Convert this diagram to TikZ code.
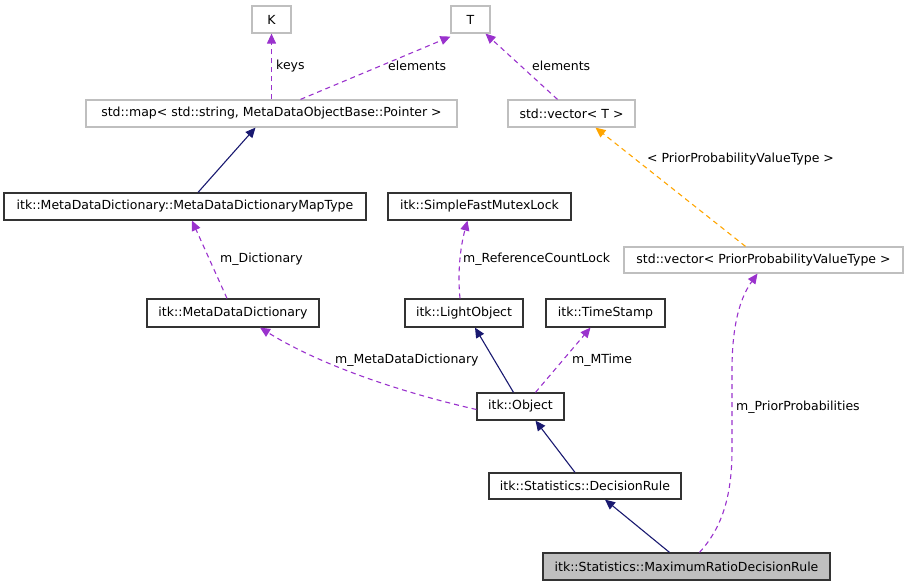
\documentclass[tikz,border=0pt]{standalone}
\usepackage{fontspec}
\setmainfont{DejaVu Sans}
\usetikzlibrary{positioning,arrows.meta,calc}

\definecolor{inhcol}{HTML}{191970}
\definecolor{memcol}{HTML}{9A32CD}
\definecolor{tplcol}{HTML}{FFA500}
\definecolor{extcol}{HTML}{BFBFBF}

\begin{document}
\begin{tikzpicture}[
    x=1pt, y=-1pt,
    font=\fontsize{12.5}{14}\selectfont,
    >={Triangle[length=10pt,width=9pt]},
    inherit/.style={->, draw=inhcol, line width=1.1pt},
    member/.style={->, draw=memcol, line width=1.1pt, dash pattern=on 5pt off 4pt},
    tmpl/.style={->, draw=tplcol, line width=1.1pt, dash pattern=on 5pt off 4pt},
    cls/.style={
        draw=black!80, line width=1.2pt,
        minimum height=27pt,
        inner sep=0pt,
        fill=white
    },
    ext/.style={
        draw=extcol, line width=1.2pt,
        minimum height=27pt,
        inner sep=0pt,
        fill=white
    },
    main/.style={
        draw=black!80, line width=1.2pt,
        minimum height=27pt,
        inner sep=0pt,
        fill=extcol
    },
    lbl/.style={anchor=west, inner sep=0pt}
]
\useasboundingbox (0,0) rectangle (908,587);

% Template parameters
\node[ext, minimum width=39pt] (K) at (271.5,19.5) {K};
\node[ext, minimum width=39pt] (T) at (470.5,19.5) {T};

% Containers
\node[ext, minimum width=371pt] (map) at (271.5,113.5) {std::map< std::string, MetaDataObjectBase::Pointer >};
\node[ext, minimum width=127pt] (vecT) at (571.5,113.5) {std::vector< T >};

\node[cls, minimum width=362pt] (maptype) at (185,206.5) {itk::MetaDataDictionary::MetaDataDictionaryMapType};
\node[cls, minimum width=183pt] (mutex) at (479.5,206.5) {itk::SimpleFastMutexLock};
\node[ext, minimum width=279pt, minimum height=26pt] (vecprior) at (763.5,260) {std::vector< PriorProbabilityValueType >};

% Classes
\node[cls, minimum width=172pt, minimum height=28pt] (metadict) at (233,313) {itk::MetaDataDictionary};
\node[cls, minimum width=118pt, minimum height=28pt] (lightobj) at (464,313) {itk::LightObject};
\node[cls, minimum width=119pt, minimum height=28pt] (timestamp) at (605.5,313) {itk::TimeStamp};
\node[cls, minimum width=87pt] (object) at (520.5,406.5) {itk::Object};
\node[cls, minimum width=192pt, minimum height=26pt] (decrule) at (585,486) {itk::Statistics::DecisionRule};
\node[main, minimum width=287pt] (maxratio) at (686.5,566.5) {itk::Statistics::MaximumRatioDecisionRule};

% Inheritance
\draw[inherit] ([xshift=13pt]maptype.north) -- ([xshift=-16pt]map.south);
\draw[inherit] ([xshift=-7pt]object.north) -- ([xshift=11pt]lightobj.south);
\draw[inherit] ([xshift=-10pt]decrule.north) -- ([xshift=15pt]object.south);
\draw[inherit] ([xshift=-17pt]maxratio.north) -- ([xshift=20pt]decrule.south);

% Members
\draw[member] (map.north) -- (K.south);
\draw[member] ([xshift=29pt]map.north) -- ([yshift=-3pt]T.south west);
\draw[member] ([xshift=-14pt]vecT.north) -- ([xshift=15pt]T.south);
\draw[tmpl] ([xshift=-18pt]vecprior.north) -- ([xshift=24pt]vecT.south);
\draw[member] ([xshift=-6pt]metadict.north) -- ([xshift=7pt]maptype.south);
\draw[member] ([xshift=-4pt]lightobj.north) .. controls ([xshift=-7pt,yshift=30pt]lightobj.north) and ([xshift=-18pt,yshift=-22pt]mutex.south) .. ([xshift=-12pt]mutex.south);
\draw[member] ([xshift=15pt]object.north) -- ([xshift=-15pt]timestamp.south);
\draw[member] ([yshift=-3pt]object.west) .. controls (400,392) and (320,365) .. ([xshift=27pt]metadict.south);
\draw[member] ([xshift=13pt]maxratio.north) .. controls (720,530) and (732,500) .. (732,450) -- (732,370) .. controls (732,320) and (742,295) .. ([xshift=-6pt]vecprior.south);

% Edge labels
\node[lbl] (lkeys) at (276,66) {keys};
\node[lbl] (lelem) at (388,66) {elements};
\node[lbl] (lelemv) at (532,66) {elements};
\node[lbl] (lprior) at (647,159) {< PriorProbabilityValueType >};
\node[lbl] (ldict) at (220,259) {m\_Dictionary};
\node[lbl] (llock) at (463,259) {m\_ReferenceCountLock};
\node[lbl] (lmdd) at (335,360) {m\_MetaDataDictionary};
\node[lbl] (lmtime) at (572,360) {m\_MTime};
\node[lbl] (lpp) at (736,407) {m\_PriorProbabilities};

\end{tikzpicture}
\end{document}
